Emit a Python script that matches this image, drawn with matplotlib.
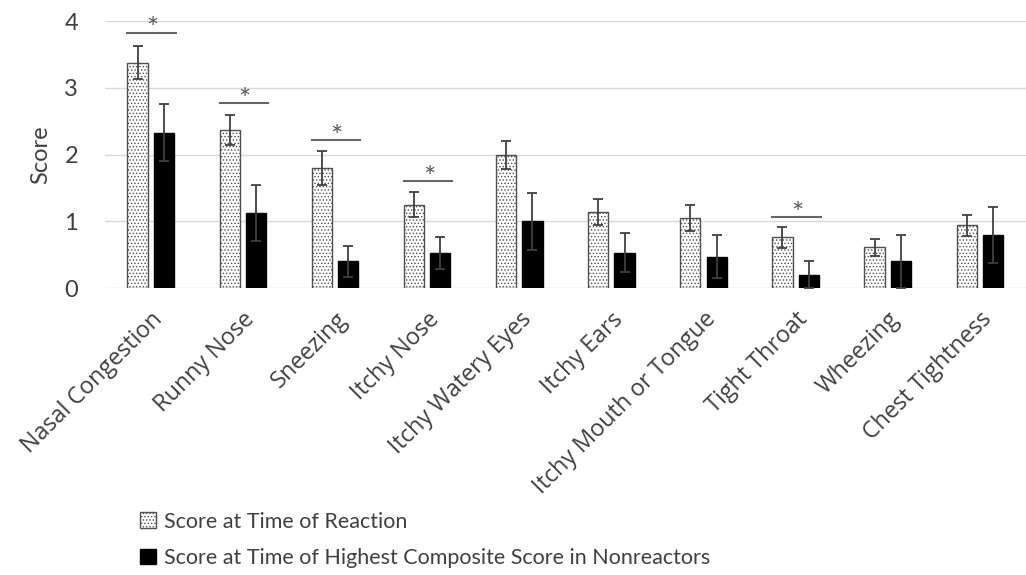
import matplotlib.pyplot as plt
import numpy as np

plt.rcParams['font.family'] = ['Lato', 'DejaVu Sans']
plt.rcParams['hatch.color'] = '#555555'
plt.rcParams['hatch.linewidth'] = 0.6

categories = ["Nasal Congestion", "Runny Nose", "Sneezing", "Itchy Nose",
              "Itchy Watery Eyes", "Itchy Ears", "Itchy Mouth or Tongue",
              "Tight Throat", "Wheezing", "Chest Tightness"]
reaction = [3.38, 2.37, 1.80, 1.25, 2.00, 1.14, 1.05, 0.76, 0.61, 0.94]
reaction_err = [0.25, 0.22, 0.25, 0.19, 0.21, 0.20, 0.19, 0.16, 0.13, 0.16]
nonreact = [2.33, 1.13, 0.40, 0.53, 1.00, 0.53, 0.47, 0.20, 0.40, 0.80]
nonreact_err = [0.43, 0.42, 0.23, 0.24, 0.43, 0.29, 0.32, 0.20, 0.40, 0.42]
# significance markers: category index and bar height
sig_idx = [0, 1, 2, 3, 7]
sig_y = [3.83, 2.77, 2.22, 1.60, 1.06]

x = np.arange(len(categories))
w = 0.22
off = 0.143

fig = plt.figure(figsize=(10.26, 5.75), dpi=100)
ax = fig.add_axes([0.102, 0.499, 0.898, 0.464])

ax.bar(x - off, reaction, w, color='white', edgecolor='#505050', hatch='.....',
       linewidth=1.0, label='Score at Time of Reaction', zorder=3)
ax.bar(x + off, nonreact, w, color='black', edgecolor='black', linewidth=1.0,
       label='Score at Time of Highest Composite Score in Nonreactors', zorder=3)
ax.errorbar(x - off, reaction, yerr=reaction_err, fmt='none', ecolor='#404040',
            elinewidth=1.3, capsize=3.5, capthick=1.3, zorder=4)
ax.errorbar(x + off, nonreact, yerr=nonreact_err, fmt='none', ecolor='#404040',
            elinewidth=1.3, capsize=3.5, capthick=1.3, zorder=4)

for i, y in zip(sig_idx, sig_y):
    ax.plot([x[i] - off - w / 2, x[i] + off + w / 2 + 0.02], [y, y], color='#666666',
            lw=1.5, clip_on=False, zorder=4)
    ax.text(x[i] + 0.02, y - 0.16, '*', ha='center', va='bottom', fontsize=21,
            color='#595959', clip_on=False)

ax.set_xlim(-0.5, len(categories) - 0.5)
ax.set_ylim(0, 4)
ax.set_yticks([0, 1, 2, 3, 4])
ax.yaxis.grid(True, color='#d9d9d9', lw=1.0, zorder=0)
ax.set_axisbelow(True)
for s in ax.spines.values():
    s.set_visible(False)
ax.tick_params(axis='y', length=0, labelsize=17, colors='#404040', pad=19)
ax.set_xticks(x)
ax.set_xticklabels(categories, rotation=45, ha='right', rotation_mode='anchor',
                   fontsize=16.8, family=['Open Sans', 'DejaVu Sans'])
ax.tick_params(axis='x', length=0, colors='#404040', pad=14)
ax.set_ylabel('Score', fontsize=17, color='#404040', labelpad=8)
ax.yaxis.set_label_coords(-0.058, 0.5)

leg = fig.legend(loc='upper left', bbox_to_anchor=(0.136, 0.11), frameon=False,
                 fontsize=15.5, handlelength=0.75, handleheight=0.75, handletextpad=0.4,
                 labelspacing=0.75, labelcolor='#404040', borderaxespad=0, borderpad=0)

fig.savefig('out.png', dpi=100)
